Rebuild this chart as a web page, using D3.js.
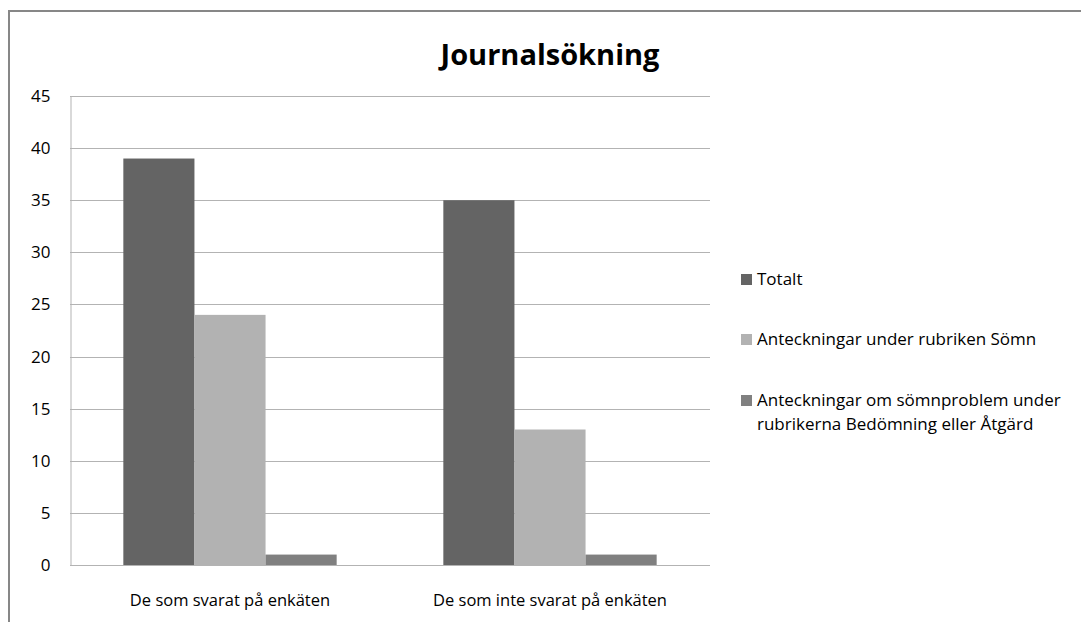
<!DOCTYPE html>
<html>
<head>
<meta charset="utf-8">
<script src="https://cdn.jsdelivr.net/npm/d3@7"></script>
<style>
  body { margin: 0; background: #fff; }
  text { font-family: "Open Sans", "DejaVu Sans", sans-serif; fill: #000; }
</style>
</head>
<body>
<script>
var categories = ["De som svarat på enkäten", "De som inte svarat på enkäten"];
var seriesNames = ["Totalt", "Anteckningar under rubriken Sömn",
  "Anteckningar om sömnproblem under|rubrikerna Bedömning eller Åtgärd"];
var totalt = [39, 35];
var somn = [24, 13];
var bedomning = [1, 1];
var yTicks = [0, 5, 10, 15, 20, 25, 30, 35, 40, 45];

const WIDTH = 1081;
const HEIGHT = 622;
const LEFT = 70, RIGHT = 710, TOP = 96, BOTTOM = 565;
var colors = ["#646464", "#b2b2b2", "#808080"];
var series = [totalt, somn, bedomning];

var svg = d3.select("body").append("svg")
  .attr("width", WIDTH).attr("height", HEIGHT);

// chart frame
svg.append("rect")
  .attr("x", 9).attr("y", 11)
  .attr("width", WIDTH + 20).attr("height", HEIGHT + 20)
  .attr("fill", "#fff").attr("stroke", "#878787").attr("stroke-width", 2);

// Excel gap width 150%: group width = 3 bars, gap = 1.5 bars
var groupW = (RIGHT - LEFT) / categories.length;
var barW = groupW / 4.5;
var x1 = d3.scaleBand().domain(d3.range(series.length)).range([0, barW * 3]);

var y = d3.scaleLinear().domain([0, 45]).range([BOTTOM, TOP]);

// gridlines
svg.append("g").selectAll("line").data(yTicks).enter().append("line")
  .attr("x1", LEFT).attr("x2", RIGHT)
  .attr("y1", function(d){ return Math.round(y(d)) + 0.5; })
  .attr("y2", function(d){ return Math.round(y(d)) + 0.5; })
  .attr("stroke", "#b3b3b3").attr("stroke-width", 1);

// y axis
var yAxis = d3.axisLeft(y).tickValues(yTicks).tickSize(0).tickPadding(20);
var ya = svg.append("g").attr("transform", "translate(" + (LEFT + 0.5) + ",0)").call(yAxis);
ya.select(".domain").attr("stroke", "#b3b3b3");
ya.selectAll("text").style("font-size", "17px");

// bars
categories.forEach(function(cat, ci){
  var gx = LEFT + ci * groupW + (groupW - barW * 3) / 2;
  svg.append("g").selectAll("rect").data(series).enter().append("rect")
    .attr("x", function(d, i){ return gx + x1(i); })
    .attr("width", x1.bandwidth())
    .attr("y", function(d){ return y(d[ci]); })
    .attr("height", function(d){ return y(0) - y(d[ci]); })
    .attr("fill", function(d, i){ return colors[i]; });
});

// redraw baseline on top
svg.append("line").attr("x1", LEFT).attr("x2", RIGHT)
  .attr("y1", Math.round(y(0)) + 0.5).attr("y2", Math.round(y(0)) + 0.5)
  .attr("stroke", "#b3b3b3");

// category labels
svg.append("g").selectAll("text").data(categories).enter().append("text")
  .attr("x", function(d, i){ return LEFT + i * groupW + groupW / 2; })
  .attr("y", 606)
  .attr("text-anchor", "middle")
  .style("font-size", "16.5px")
  .text(function(d){ return d; });

// title
svg.append("text").attr("x", 550).attr("y", 65)
  .attr("text-anchor", "middle")
  .style("font-size", "29px").style("font-weight", "bold")
  .text("Journalsökning");

// legend
var legendY = [279, 339, 400];
var leg = svg.append("g").selectAll("g").data(seriesNames).enter().append("g")
  .attr("transform", function(d, i){ return "translate(741," + legendY[i] + ")"; });
leg.append("rect").attr("x", 0).attr("y", -5).attr("width", 11).attr("height", 11)
  .attr("fill", function(d, i){ return colors[i]; });
leg.append("text").attr("x", 16).attr("y", 6)
  .style("font-size", "17px")
  .selectAll("tspan").data(function(d){ return d.split("|"); }).enter().append("tspan")
  .attr("x", 16).attr("dy", function(d, i){ return i ? 24 : 0; })
  .text(function(d){ return d; });
</script>
</body>
</html>
